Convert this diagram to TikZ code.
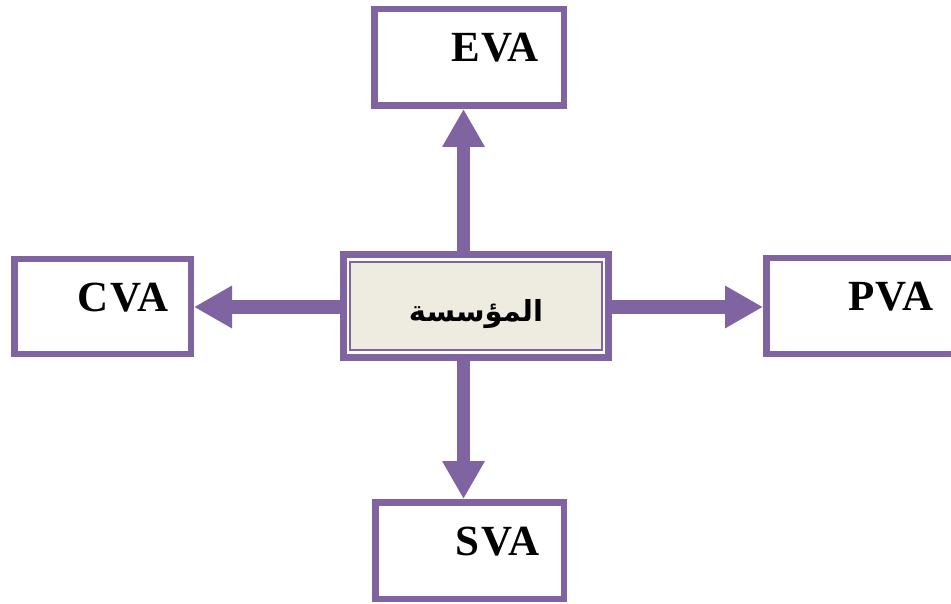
\documentclass[tikz,border=0pt]{standalone}
\usepackage{fontspec}
\setmainfont{Liberation Serif}
\newfontfamily\labelfont[LetterSpace=3]{Liberation Serif Bold}
\newfontfamily\arabicfont[Script=Arabic]{DejaVu Sans}
\TeXXeTstate=1
\usetikzlibrary{arrows.meta}
\definecolor{vapurple}{HTML}{8064A2}
\definecolor{vabeige}{HTML}{EEECE1}
\tikzset{
  vabox/.style={draw=vapurple, line width=6.5pt, fill=white, inner sep=0pt, rectangle},
  valabel/.style={font=\labelfont\fontsize{43}{43}\selectfont, inner sep=0pt, anchor=base},
  vaarrow/.style={draw=vapurple, line width=13pt, -{Triangle[length=38pt,width=40pt]}, vapurple},
}
\begin{document}
\begin{tikzpicture}[x=1pt, y=-1pt]
  \clip (0,0) rectangle (951,604);
  \fill[white] (0,0) rectangle (951,604);

  % outer value boxes
  \node[vabox, minimum width=189.5pt, minimum height=96.5pt] (eva) at (469,57.5) {};
  \node[vabox, minimum width=188.5pt, minimum height=96.5pt] (sva) at (469.5,550.5) {};
  \node[vabox, minimum width=176.5pt, minimum height=94.5pt] (cva) at (102.5,306.5) {};
  \node[vabox, minimum width=190.5pt, minimum height=95.5pt] (pva) at (861.5,306) {};

  % their labels
  \node[valabel] (evat) at (495,62) {EVA};
  \node[valabel] (svat) at (497.5,555) {SVA};
  \node[valabel] (cvat) at (123,312) {CVA};
  \node[valabel] (pvat) at (891,311) {PVA};

  % central box with a double frame
  \node[draw=vapurple, line width=7pt, fill=white, inner sep=0pt,
        minimum width=265.5pt, minimum height=102pt] (mid) at (476,306) {};
  \draw[vapurple, line width=2.3pt, fill=vabeige]
    ([shift={(10.5,10.5)}]mid.north west) rectangle ([shift={(-10.5,-10.5)}]mid.south east);
  \node[inner sep=0pt, anchor=base, font=\arabicfont\bfseries\fontsize{29}{29}\selectfont]
    (midt) at (476,321) {\beginR المؤسسة\endR};

  % guides for the arrow axes
  \coordinate (vx) at (463.5,0);
  \coordinate (hy) at (0,307);

  % arrows from the centre outwards
  \draw[vaarrow] (vx |- mid.north) -- (vx |- eva.south);
  \draw[vaarrow] (vx |- mid.south) -- (vx |- sva.north);
  \draw[vaarrow] (hy -| mid.west) -- (hy -| cva.east);
  \draw[vaarrow] (hy -| mid.east) -- (hy -| pva.west);
\end{tikzpicture}
\end{document}
